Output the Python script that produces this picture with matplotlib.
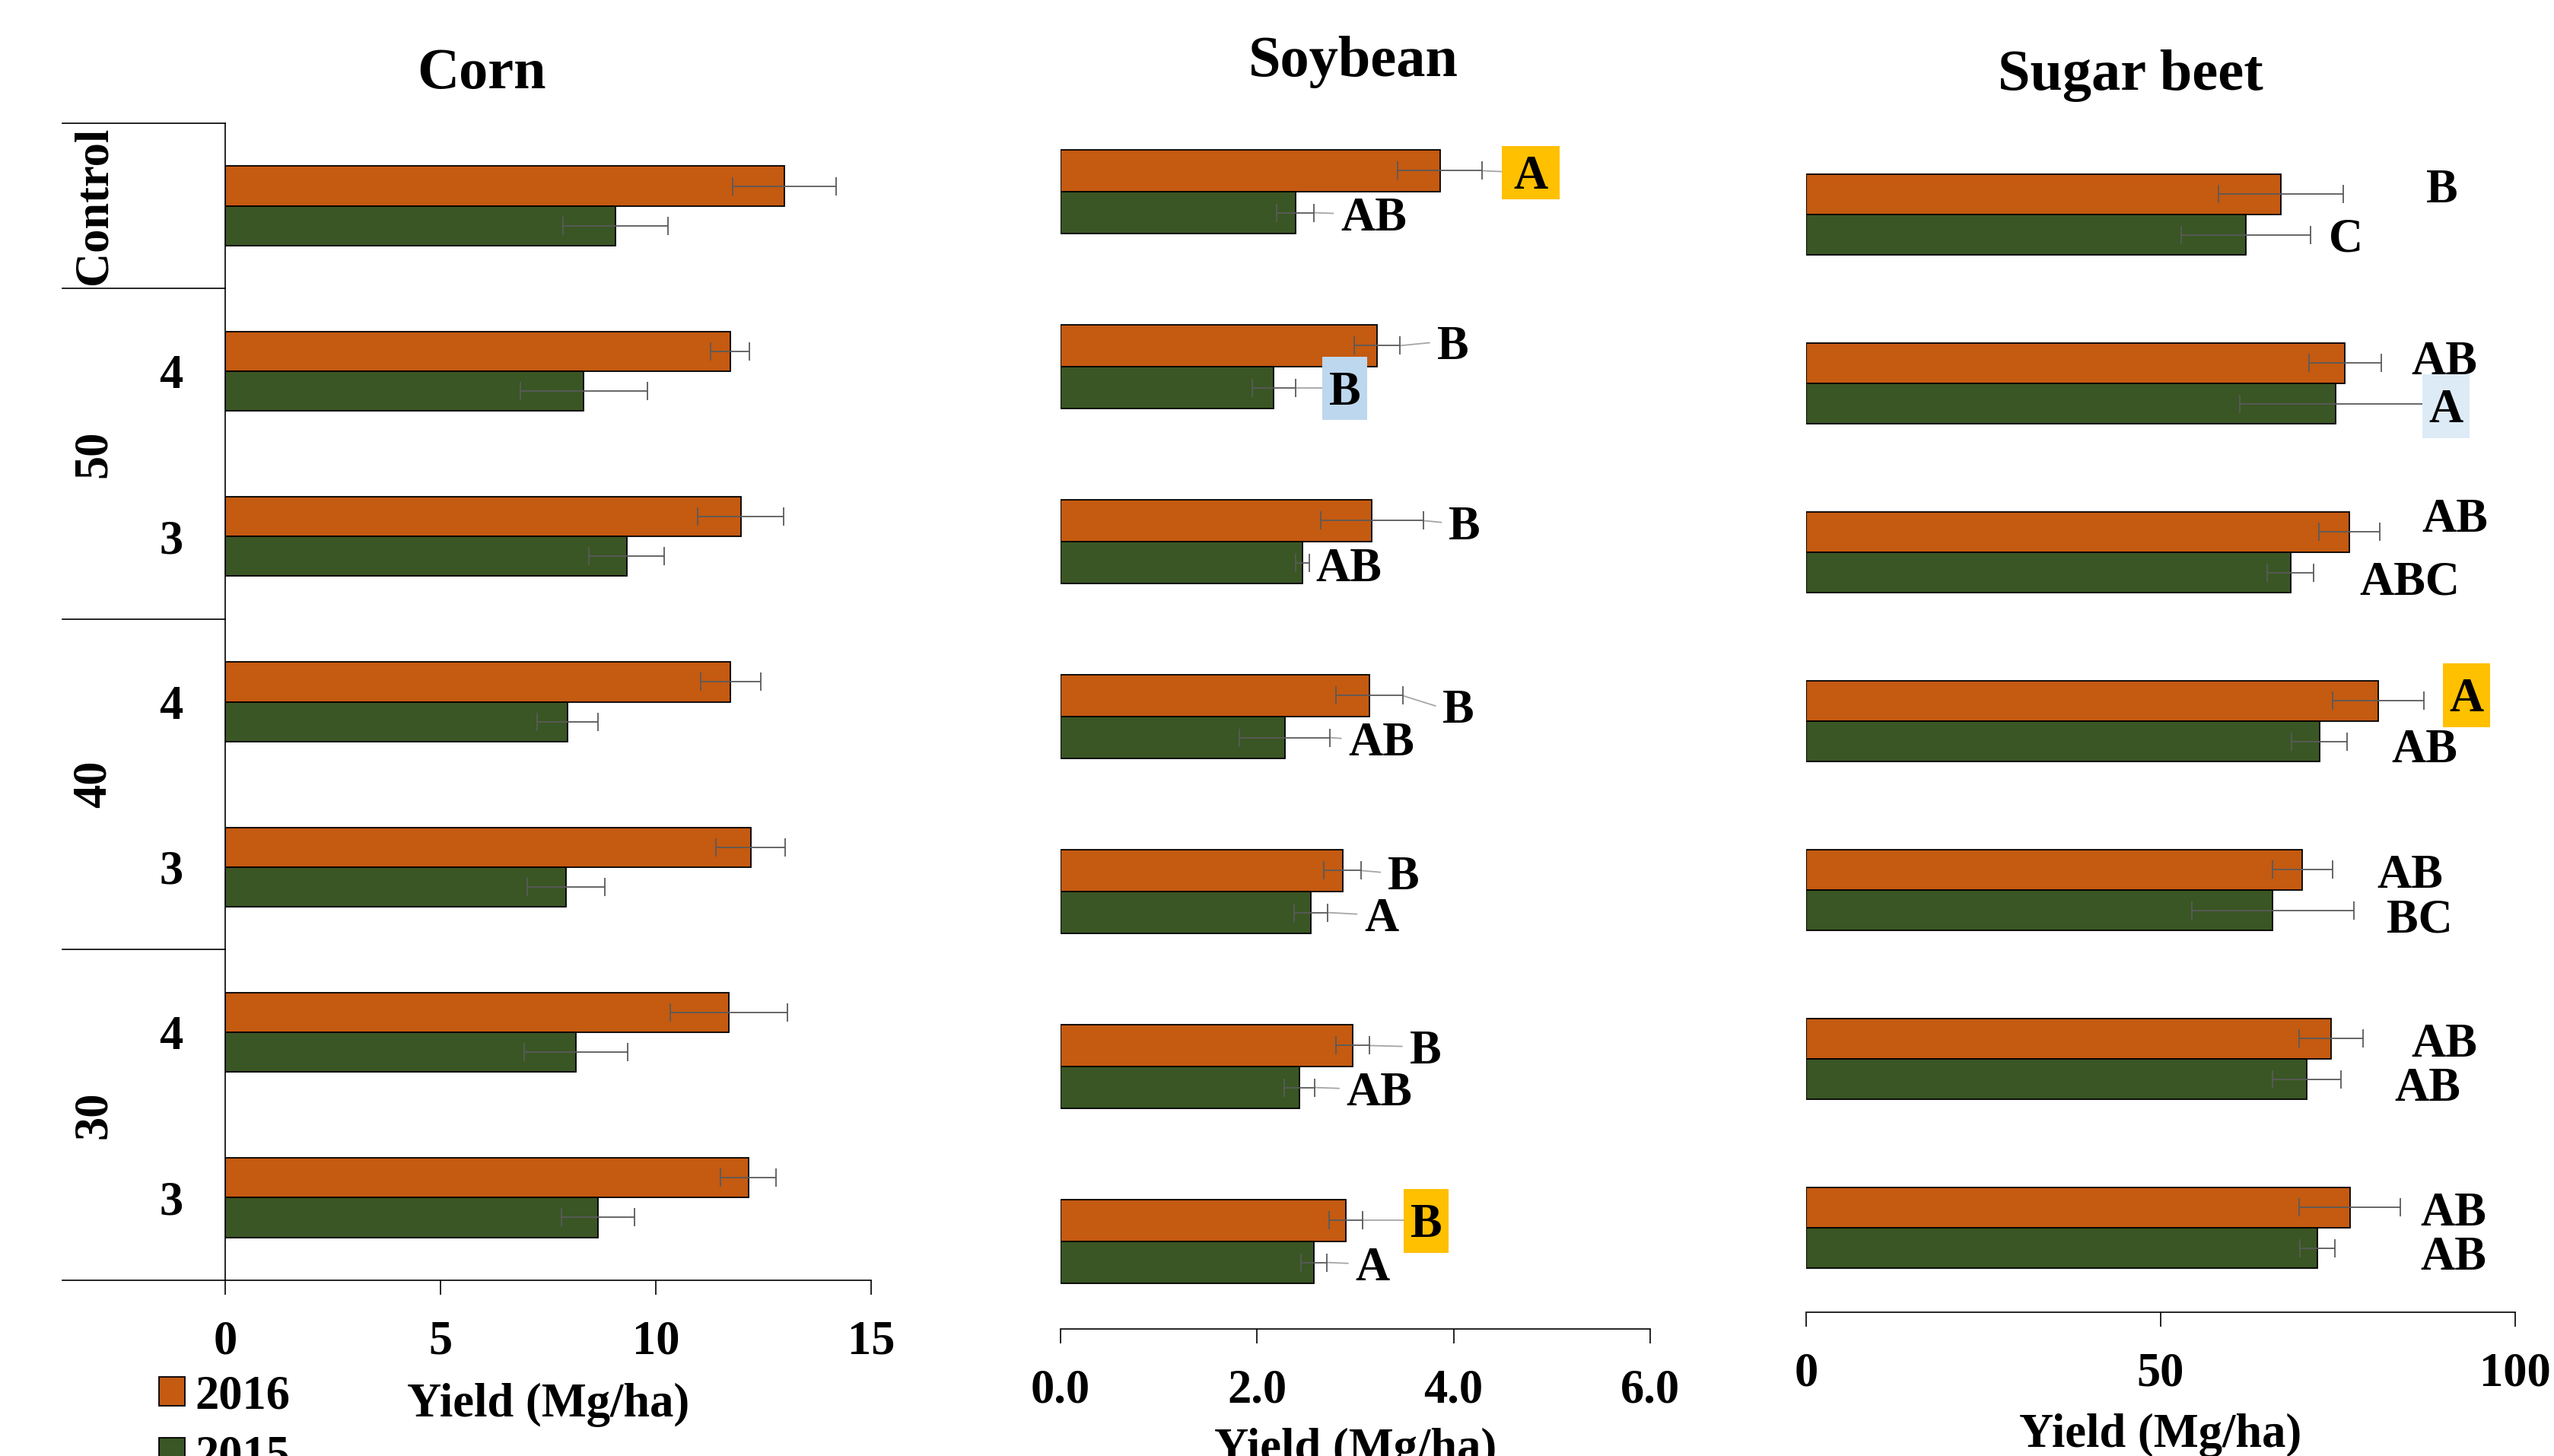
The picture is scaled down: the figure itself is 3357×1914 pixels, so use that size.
import matplotlib
matplotlib.use("Agg")
import matplotlib.pyplot as plt
from matplotlib.patches import Patch
from matplotlib.path import Path
from matplotlib.ticker import FormatStrFormatter
from matplotlib.transforms import blended_transform_factory

plt.rcParams['font.family'] = ['Liberation Serif', 'DejaVu Serif']
plt.rcParams['font.weight'] = 'bold'

# ---------------------------------------------------------------- data
years = ["2016", "2015"]
row_labels = ["", "4", "3", "4", "3", "4", "3"]
group_names = ["Control", "50", "40", "30"]
group_rows = [(0, 0), (1, 2), (3, 4), (5, 6)]

corn_2016 = [12.98, 11.73, 11.97, 11.74, 12.20, 11.70, 12.15]
corn_2016_err = [1.20, 0.45, 1.00, 0.70, 0.80, 1.36, 0.64]
corn_2015 = [9.06, 8.33, 9.32, 7.95, 7.92, 8.14, 8.66]
corn_2015_err = [1.22, 1.48, 0.87, 0.70, 0.90, 1.20, 0.85]

soy_2016 = [3.86, 3.22, 3.17, 3.14, 2.87, 2.97, 2.90]
soy_2016_err = [0.43, 0.23, 0.52, 0.34, 0.19, 0.17, 0.17]
soy_2015 = [2.39, 2.17, 2.46, 2.28, 2.55, 2.43, 2.58]
soy_2015_err = [0.19, 0.22, 0.07, 0.46, 0.17, 0.155, 0.13]
soy_letters_2016 = ["A", "B", "B", "B", "B", "B", "B"]
soy_letters_2015 = ["AB", "B", "AB", "AB", "A", "AB", "A"]

beet_2016 = [67.0, 76.0, 76.6, 80.7, 70.0, 74.0, 76.7]
beet_2016_err = [8.8, 5.1, 4.25, 6.4, 4.2, 4.5, 7.15]
beet_2015 = [62.0, 74.7, 68.3, 72.4, 65.8, 70.6, 72.1]
beet_2015_err = [9.1, 13.5, 3.3, 3.9, 11.4, 4.8, 2.5]
beet_letters_2016 = ["B", "AB", "AB", "A", "AB", "AB", "AB"]
beet_letters_2015 = ["C", "A", "ABC", "AB", "BC", "AB", "AB"]

# ------------------------------------------------------ label placement
# left edge of each letter label (x units) and its nudge off the bar centre
soy_label_x_2016 = [4.61, 3.83, 3.95, 3.89, 3.33, 3.55, 3.56]
soy_label_x_2015 = [2.85, 2.73, 2.60, 2.93, 3.09, 2.91, 3.00]
soy_label_dy_2016 = [0.005, -0.017, 0.01, 0.06, 0.01, 0.005, 0.0]
soy_label_dy_2015 = [0.004, 0.0, 0.011, 0.005, 0.009, 0.005, 0.005]
beet_label_x_2016 = [87.5, 85.3, 86.8, 90.7, 80.5, 85.3, 86.6]
beet_label_x_2015 = [73.7, 87.8, 78.0, 82.5, 81.9, 83.0, 86.6]
beet_label_dy_2016 = [-0.053, -0.031, -0.099, -0.038, 0.007, 0.009, 0.007]
beet_label_dy_2015 = [0.0, 0.012, 0.029, 0.024, 0.031, 0.030, 0.029]

GOLD, BLUE, PALE = '#FFC000', '#BDD7EE', '#DDEBF7'
soy_box_2016 = [(GOLD, 'wide'), None, None, None, None, None, (GOLD, 'tall')]
soy_box_2015 = [None, (BLUE, 'tall'), None, None, None, None, None]
beet_box_2016 = [None, None, None, (GOLD, 'tall'), None, None, None]
beet_box_2015 = [None, (PALE, 'tall'), None, None, None, None, None]

# ---------------------------------------------------------------- style
ORANGE = '#C55A11'
GREEN = '#3A5624'
ERR = '#5A5A5A'
LEADER = '#A6A6A6'
FS = 45
TITLE_FS = 55
BAR_H = 0.24
W_PX, H_PX = 3357, 1914
DPI = 100

# box paddings in units of font size: (horizontal, bottom, top)
BOX_PADS = {'wide': (0.25, 0.0, 0.19), 'tall': (0.14, 0.106, 0.303)}


def label_box(pad_x, pad_bottom, pad_top):
    def style(x0, y0, width, height, mutation_size):
        px = pad_x * mutation_size
        xa, xb = x0 - px, x0 + width + px
        ya = y0 - pad_bottom * mutation_size
        yb = y0 + height + pad_top * mutation_size
        return Path([(xa, ya), (xb, ya), (xb, yb), (xa, yb), (xa, ya)],
                    closed=True)
    return style


fig = plt.figure(figsize=(W_PX / DPI, H_PX / DPI), dpi=DPI)


def fx(px):
    return px / W_PX


def fy(px):
    return 1 - px / H_PX


def add_panel(left, right, top, bottom):
    return fig.add_axes([fx(left), fy(bottom), fx(right - left),
                         (bottom - top) / H_PX])


def draw_bars(ax, v16, e16, v15, e15, xmax, ticks, fmt):
    rows = list(range(len(v16)))
    y16 = [r - BAR_H / 2 for r in rows]
    y15 = [r + BAR_H / 2 for r in rows]
    ax.barh(y16, v16, height=BAR_H, color=ORANGE, edgecolor='black',
            linewidth=1.3, zorder=2)
    ax.barh(y15, v15, height=BAR_H, color=GREEN, edgecolor='black',
            linewidth=1.3, zorder=2)
    for ys, vs, es in ((y16, v16, e16), (y15, v15, e15)):
        ax.errorbar(vs, ys, xerr=es, fmt='none', ecolor=ERR,
                    elinewidth=1.3, capsize=8.8, capthick=1.3, zorder=3)
    ax.set_xlim(0, xmax)
    ax.set_ylim(len(v16) - 0.5, -0.5)
    ax.set_xticks(ticks)
    ax.xaxis.set_major_formatter(FormatStrFormatter(fmt))
    ax.tick_params(axis='x', direction='out', length=13.7, width=1.2,
                   pad=24, labelsize=FS, color='black')
    for side in ('top', 'right', 'left'):
        ax.spines[side].set_visible(False)
    ax.spines['bottom'].set_linewidth(1.2)
    ax.set_yticks([])
    return y16, y15


def draw_letters(ax, ys, vals, errs, letters, xs, dys, boxes, leaders):
    px_per_unit = ax.bbox.width / (ax.get_xlim()[1] - ax.get_xlim()[0])
    em = FS * DPI / 72
    for y, v, e, s, x, dy, box in zip(ys, vals, errs, letters, xs, dys,
                                      boxes):
        kw = {}
        gap = 9 / px_per_unit
        if box is not None:
            color, kind = box
            pads = BOX_PADS[kind]
            kw['bbox'] = dict(boxstyle=label_box(*pads), fc=color, ec='none')
            gap = pads[0] * em / px_per_unit
        if leaders:
            ax.plot([v + e, x - gap], [y, y + dy], color=LEADER, lw=1.3,
                    zorder=2.5, solid_capstyle='butt')
        ax.text(x, y + dy, s, fontsize=FS, ha='left', va='center_baseline',
                zorder=5, **kw)


# ---------------------------------------------------------------- corn
ax_corn = add_panel(296, 1145, 162, 1683)
draw_bars(ax_corn, corn_2016, corn_2016_err, corn_2015, corn_2015_err,
          15, [0, 5, 10, 15], '%d')
ax_corn.spines['left'].set_visible(True)
ax_corn.spines['left'].set_linewidth(1.2)
ax_corn.set_yticks(range(len(row_labels)), row_labels)
ax_corn.tick_params(axis='y', length=0, pad=40, labelsize=FS)

sep = blended_transform_factory(ax_corn.transAxes, ax_corn.transData)
bounds = [g[0] - 0.5 for g in group_rows] + [group_rows[-1][1] + 0.5]
for b in bounds:
    ax_corn.plot([-0.2525, 0], [b, b], color='black', lw=1.2,
                 transform=sep, clip_on=False, zorder=4)
for name, (r0, r1) in zip(group_names, group_rows):
    ax_corn.text(-0.2108, (r0 + r1) / 2, name, transform=sep, rotation=90,
                 rotation_mode='anchor', ha='center', va='center_baseline',
                 fontsize=FS)

# ---------------------------------------------------------------- soybean
ax_soy = add_panel(1394, 2169, 137, 1747)
ys16, ys15 = draw_bars(ax_soy, soy_2016, soy_2016_err, soy_2015,
                       soy_2015_err, 6, [0, 2, 4, 6], '%.1f')
draw_letters(ax_soy, ys16, soy_2016, soy_2016_err, soy_letters_2016,
             soy_label_x_2016, soy_label_dy_2016, soy_box_2016, True)
draw_letters(ax_soy, ys15, soy_2015, soy_2015_err, soy_letters_2015,
             soy_label_x_2015, soy_label_dy_2015, soy_box_2015, True)

# ---------------------------------------------------------------- sugar beet
ax_beet = add_panel(2374, 3306, 171, 1725)
yb16, yb15 = draw_bars(ax_beet, beet_2016, beet_2016_err, beet_2015,
                       beet_2015_err, 100, [0, 50, 100], '%d')
draw_letters(ax_beet, yb16, beet_2016, beet_2016_err, beet_letters_2016,
             beet_label_x_2016, beet_label_dy_2016, beet_box_2016, False)
draw_letters(ax_beet, yb15, beet_2015, beet_2015_err, beet_letters_2015,
             beet_label_x_2015, beet_label_dy_2015, beet_box_2015, False)

# ---------------------------------------------------------------- titles
fig.text(fx(633), fy(116), "Corn", fontsize=TITLE_FS, ha='center',
         va='baseline')
fig.text(fx(1779), fy(100), "Soybean", fontsize=TITLE_FS, ha='center',
         va='baseline')
fig.text(fx(2800), fy(118), "Sugar beet", fontsize=TITLE_FS, ha='center',
         va='baseline')

xlabel = "Yield (Mg/ha)"
fig.text(fx((296 + 1145) / 2), fy(1862), xlabel, fontsize=FS,
         ha='center', va='baseline')
fig.text(fx((1394 + 2169) / 2), fy(1921), xlabel, fontsize=FS,
         ha='center', va='baseline')
fig.text(fx((2374 + 3306) / 2), fy(1902), xlabel, fontsize=FS,
         ha='center', va='baseline')

# ---------------------------------------------------------------- legend
handles = [Patch(facecolor=ORANGE, edgecolor='black', linewidth=1.3),
           Patch(facecolor=GREEN, edgecolor='black', linewidth=1.3)]
fig.legend(handles, years, loc='upper left',
           bbox_to_anchor=(fx(209), fy(1807)), frameon=False, fontsize=FS,
           handlelength=0.55, handleheight=0.55, handletextpad=0.21,
           borderpad=0, borderaxespad=0, labelspacing=0.35)

fig.savefig("out.png", dpi=DPI)
